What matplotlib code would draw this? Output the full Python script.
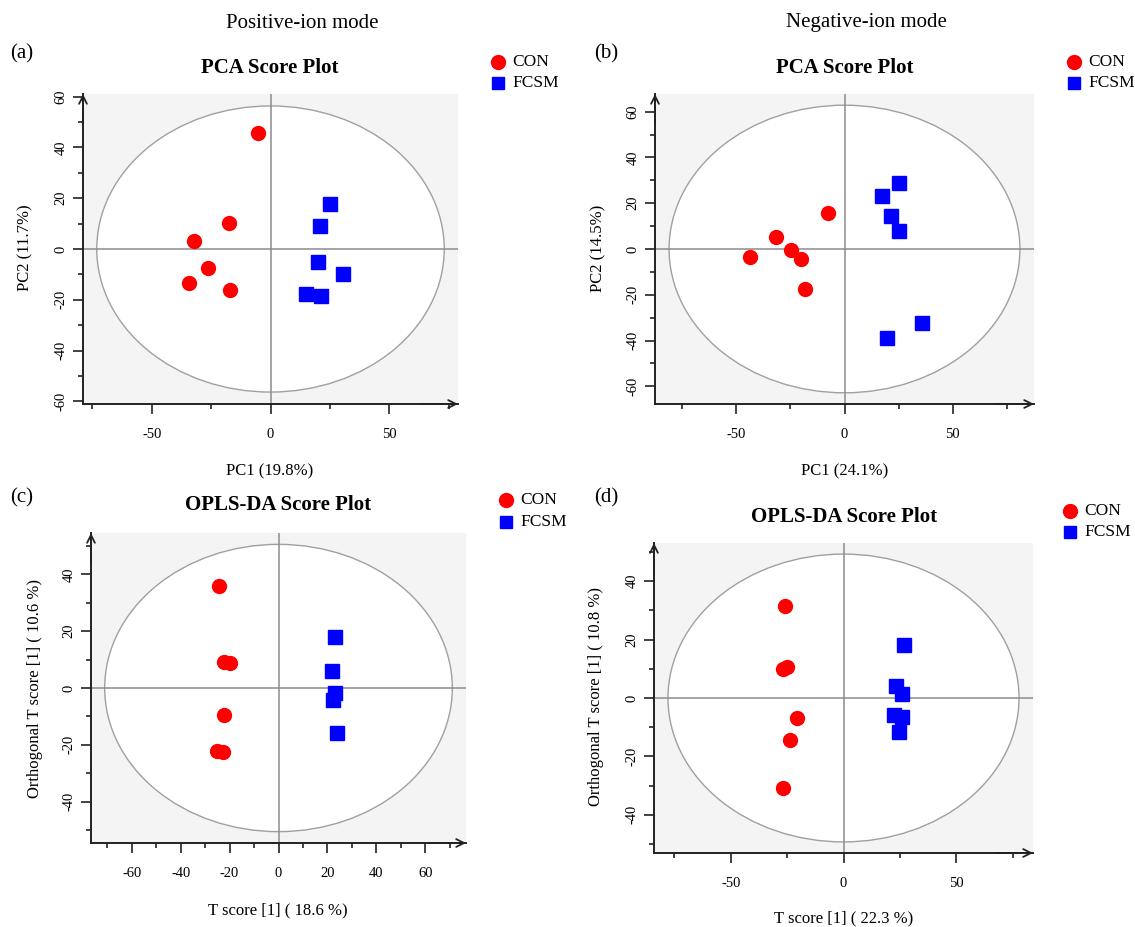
import matplotlib
matplotlib.use('Agg')
import matplotlib.pyplot as plt
from matplotlib.patches import Ellipse
from matplotlib.lines import Line2D
from matplotlib.ticker import MultipleLocator

plt.rcParams['font.family'] = ['Liberation Serif', 'DejaVu Serif']
plt.rcParams['axes.unicode_minus'] = False

# scores
pos_pca_con_x = [-5.2, -17.4, -32.3, -26.5, -34.3, -16.9]
pos_pca_con_y = [45.8, 10.1, 3.3, -7.3, -13.4, -16.3]
pos_pca_fcsm_x = [25.2, 20.9, 20.2, 30.5, 15.1, 21.1]
pos_pca_fcsm_y = [17.6, 9.1, -5.0, -9.8, -17.6, -18.3]

neg_pca_con_x = [-7.4, -31.6, -24.9, -43.6, -19.9, -18.2]
neg_pca_con_y = [15.6, 5.4, -0.4, -3.3, -4.4, -17.6]
neg_pca_fcsm_x = [25.3, 17.5, 21.4, 25.3, 36.0, 19.5]
neg_pca_fcsm_y = [29.0, 23.1, 14.4, 7.9, -32.2, -39.0]

pos_opls_con_x = [-24.4, -22.1, -19.9, -22.1, -25.1, -22.6]
pos_opls_con_y = [35.8, 9.2, 8.8, -9.6, -22.2, -22.5]
pos_opls_fcsm_x = [23.2, 21.7, 23.2, 22.3, 23.8]
pos_opls_fcsm_y = [18.0, 6.1, -1.8, -4.1, -15.8]

neg_opls_con_x = [-25.9, -25.2, -26.9, -20.4, -23.6, -26.9]
neg_opls_con_y = [31.6, 10.6, 9.8, -6.9, -14.5, -30.9]
neg_opls_fcsm_x = [26.9, 23.3, 26.1, 22.3, 26.1, 24.8]
neg_opls_fcsm_y = [18.1, 4.1, 1.5, -5.7, -6.5, -11.7]

groups = ['CON', 'FCSM']
letters = ['(a)', '(b)', '(c)', '(d)']
titles = ['PCA Score Plot', 'PCA Score Plot', 'OPLS-DA Score Plot', 'OPLS-DA Score Plot']
xlabels = ['PC1 (19.8%)', 'PC1 (24.1%)', 'T score [1] ( 18.6 %)', 'T score [1] ( 22.3 %)']
ylabels = ['PC2 (11.7%)', 'PC2 (14.5%)', 'Orthogonal T score [1] ( 10.6 %)',
           'Orthogonal T score [1] ( 10.8 %)']

W, H = 1135, 927
fig = plt.figure(figsize=(W / 100, H / 100), dpi=100)


def fx(px):
    return px / W


def fy(py):
    return 1 - py / H


panels = [
    # box px (left, top, right, bottom), xlim, ylim, ellipse half axes, x major/minor, y major/minor
    dict(box=(83, 94, 458, 404), xlim=79, ylim=61, ell=(73.2, 56.3), xt=(50, 25), yt=(20, 10),
         data=(pos_pca_con_x, pos_pca_con_y, pos_pca_fcsm_x, pos_pca_fcsm_y),
         letter=(22, 54), title=(270, 68), leg=(498, 62, 83), xl=(270, 471), yl=(25, 248)),
    dict(box=(655, 94, 1034, 404), xlim=87.5, ylim=67.7, ell=(81, 62.8), xt=(50, 25), yt=(20, 10),
         data=(neg_pca_con_x, neg_pca_con_y, neg_pca_fcsm_x, neg_pca_fcsm_y),
         letter=(606, 54), title=(845, 68), leg=(1074, 62, 83), xl=(845, 471), yl=(598, 248)),
    dict(box=(91, 533, 466, 843), xlim=76.7, ylim=54.6, ell=(71.1, 50.6), xt=(20, 10), yt=(20, 10),
         data=(pos_opls_con_x, pos_opls_con_y, pos_opls_fcsm_x, pos_opls_fcsm_y),
         letter=(22, 498), title=(278, 505), leg=(506, 500, 522), xl=(278, 910), yl=(35, 688)),
    dict(box=(654, 543, 1033, 853), xlim=84, ylim=53.1, ell=(77.8, 49.3), xt=(50, 25), yt=(20, 10),
         data=(neg_opls_con_x, neg_opls_con_y, neg_opls_fcsm_x, neg_opls_fcsm_y),
         letter=(606, 498), title=(844, 517), leg=(1070, 511, 532), xl=(844, 918), yl=(596, 697)),
]

for i, p in enumerate(panels):
    l, t, r, b = p['box']
    ax = fig.add_axes([fx(l), fy(b), (r - l) / W, (b - t) / H])
    ax.set_facecolor('#f4f4f4')
    ax.set_xlim(-p['xlim'], p['xlim'])
    ax.set_ylim(-p['ylim'], p['ylim'])

    ax.add_patch(Ellipse((0, 0), 2 * p['ell'][0], 2 * p['ell'][1], facecolor='white',
                         edgecolor='#a0a0a0', lw=1.0, zorder=1))
    ax.axhline(0, color='#8c8c8c', lw=1.1, zorder=2)
    ax.axvline(0, color='#8c8c8c', lw=1.1, zorder=2)

    cx, cy, fxs, fys = p['data']
    ax.plot(cx, cy, 'o', color='#ff0000', ms=10, mec='#ff0000', ls='none', zorder=3)
    ax.plot(fxs, fys, 's', color='#0000ff', ms=9.5, mec='#0000ff', ls='none', zorder=3)

    for s in ['top', 'right']:
        ax.spines[s].set_visible(False)
    for s in ['left', 'bottom']:
        ax.spines[s].set_linewidth(1.4)
        ax.spines[s].set_color('#222222')
    ax.annotate('', xy=(1.0, 0), xytext=(0.9, 0), xycoords='axes fraction',
                arrowprops=dict(arrowstyle='->', color='#222222', lw=1.3, shrinkA=0, shrinkB=0,
                                mutation_scale=14))
    ax.annotate('', xy=(0, 1.0), xytext=(0, 0.9), xycoords='axes fraction',
                arrowprops=dict(arrowstyle='->', color='#222222', lw=1.3, shrinkA=0, shrinkB=0,
                                mutation_scale=14))

    ax.xaxis.set_major_locator(MultipleLocator(p['xt'][0]))
    ax.xaxis.set_minor_locator(MultipleLocator(p['xt'][1]))
    ax.yaxis.set_major_locator(MultipleLocator(p['yt'][0]))
    ax.yaxis.set_minor_locator(MultipleLocator(p['yt'][1]))
    ax.tick_params(which='major', direction='out', length=7, width=1.2, labelsize=10.5,
                   color='#222222')
    ax.tick_params(which='minor', direction='out', length=3.5, width=1.2, color='#222222')
    ax.tick_params(axis='x', which='major', pad=10)
    ax.tick_params(axis='y', which='major', pad=4, labelrotation=90)
    for lab in ax.get_yticklabels():
        lab.set_verticalalignment('center')

    fig.text(fx(p['letter'][0]), fy(p['letter'][1]), letters[i], fontsize=15, ha='center', va='center')
    fig.text(fx(p['title'][0]), fy(p['title'][1]), titles[i], fontsize=15, fontweight='bold',
             ha='center', va='center')
    fig.text(fx(p['xl'][0]), fy(p['xl'][1]), xlabels[i], fontsize=12, ha='center', va='center')
    fig.text(fx(p['yl'][0]), fy(p['yl'][1]), ylabels[i], fontsize=12, ha='center', va='center',
             rotation=90)

    lx, ly1, ly2 = p['leg']
    fig.add_artist(Line2D([fx(lx)], [fy(ly1)], marker='o', ms=10, color='#ff0000',
                          transform=fig.transFigure))
    fig.add_artist(Line2D([fx(lx)], [fy(ly2)], marker='s', ms=8.5, color='#0000ff',
                          transform=fig.transFigure))
    fig.text(fx(lx + 14), fy(ly1), groups[0], fontsize=12.5, ha='left', va='center')
    fig.text(fx(lx + 14), fy(ly2), groups[1], fontsize=12.5, ha='left', va='center')

fig.text(fx(302), fy(23), 'Positive-ion mode', fontsize=15, ha='center', va='center')
fig.text(fx(866), fy(23), 'Negative-ion mode', fontsize=15, ha='center', va='center')

fig.savefig('out.png', dpi=100, facecolor='white')
